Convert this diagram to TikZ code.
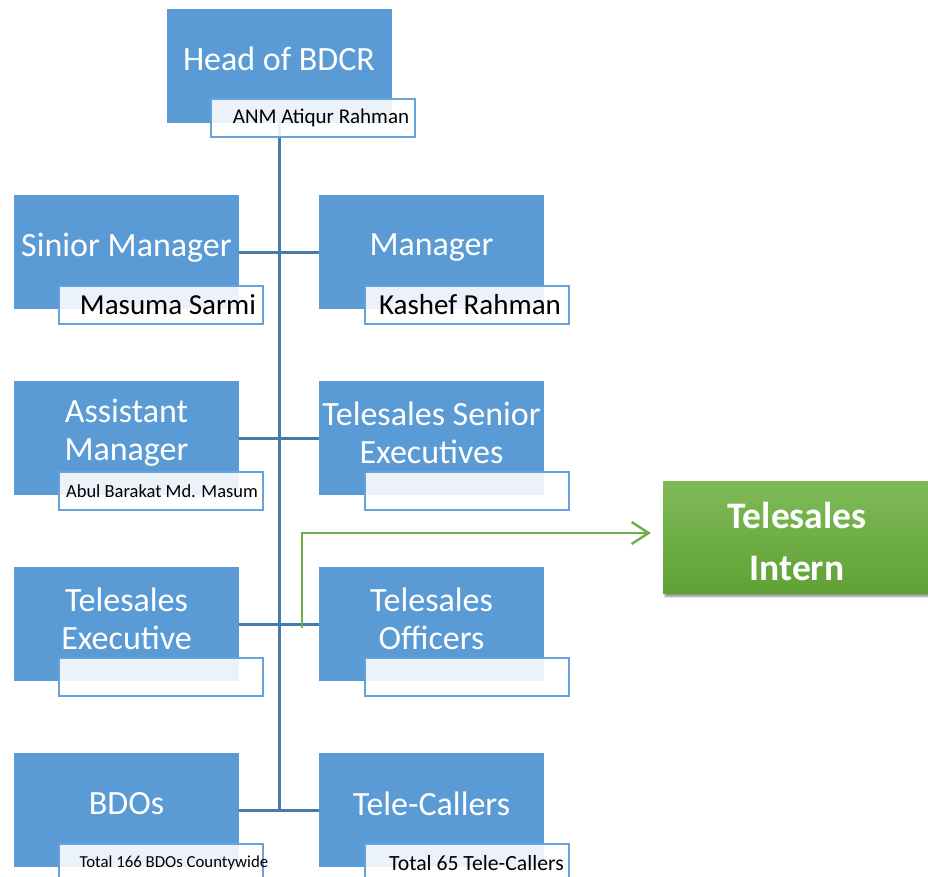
\documentclass[tikz,border=0pt]{standalone}
\usepackage{fontspec}
\setmainfont{Carlito}
\usetikzlibrary{shadows.blur,arrows.meta}
\definecolor{boxblue}{RGB}{91,155,213}
\definecolor{subline}{RGB}{104,162,218}
\definecolor{lineblue}{RGB}{71,123,172}
\definecolor{arrowgreen}{RGB}{112,173,71}
\definecolor{gtop}{RGB}{127,186,88}
\definecolor{gbot}{RGB}{96,161,52}
\tikzset{
  mainbox/.style={rectangle, fill=boxblue, draw=none, minimum width=225pt, minimum height=114pt, inner sep=0pt, outer sep=0pt},
  subbox/.style={rectangle, fill=white, fill opacity=0.88, draw=subline, line width=2pt, minimum width=204pt, minimum height=38pt, inner sep=0pt},
  maintxt/.style={text=white, font=\fontsize{34}{38}\selectfont, align=center, inner sep=0pt},
  subtxt/.style={text=black, inner sep=0pt},
  conn/.style={draw=lineblue, line width=3pt},
  greenbox/.style={rectangle, top color=gtop, bottom color=gbot, draw=none, minimum width=268pt, minimum height=112pt, inner sep=0pt,
     blur shadow={shadow xshift=2pt, shadow yshift=-3pt, shadow blur steps=6, shadow opacity=45}},
  greentxt/.style={text=white, font=\fontsize{37.5}{52}\selectfont\bfseries, align=center, inner sep=0pt},
  greenarrow/.style={draw=arrowgreen, line width=2.4pt, -{Straight Barb[length=17pt, width=22pt, line width=2.4pt]}}
}
\begin{document}
\begin{tikzpicture}[x=1pt, y=-1pt]
\useasboundingbox (0,0) rectangle (928,877);
% main boxes
\node[mainbox] (head) at (279,66.5) {};
\node[mainbox] (sm) at (126.5,252) {};
\node[mainbox] (mg) at (431.5,252) {};
\node[mainbox] (am) at (126.5,438) {};
\node[mainbox] (tse) at (431.5,438) {};
\node[mainbox] (te) at (126.5,624) {};
\node[mainbox] (to) at (431.5,624) {};
\node[mainbox] (bdo) at (126.5,810) {};
\node[mainbox] (tc) at (431.5,810) {};
% green box
\node[greenbox] (intern) at (797,537.5) {};
% connectors
\draw[conn] (head.south) -- (head.south |- bdo.east);
\draw[conn] (sm.east) -- (mg.west);
\draw[conn] (am.east) -- (tse.west);
\draw[conn] (te.east) -- (to.west);
\draw[conn] (bdo.east) -- (tc.west);
\coordinate (g1) at (302,628);
\draw[greenarrow, shorten >=12pt] (g1) |- ([yshift=4.5pt]intern.west);
% sub boxes
\node[subbox] (headsub) at (313,118) {};
\node[subbox] (smsub) at (161,305) {};
\node[subbox] (mgsub) at (466.5,305) {};
\node[subbox] (amsub) at (161,491) {};
\node[subbox] (tsesub) at (466.5,491) {};
\node[subbox] (tesub) at (161,677) {};
\node[subbox] (tosub) at (466.5,677) {};
\node[subbox] (bdosub) at (161,863) {};
\node[subbox] (tcsub) at (466.5,863) {};
% main texts
\node[maintxt] (headt) at ([yshift=8pt]head.center) {Head of BDCR};
\node[maintxt] (smt) at ([yshift=4.5pt]sm.center) {Sinior Manager};
\node[maintxt] (mgt) at ([yshift=4.5pt]mg.center) {Manager};
\node[maintxt] (amt) at ([yshift=5pt]am.center) {Assistant\\Manager};
\node[maintxt] (tset) at ([yshift=5pt]tse.center) {Telesales Senior\\Executives};
\node[maintxt] (tet) at ([yshift=5pt]te.center) {Telesales\\Executive};
\node[maintxt] (tot) at ([yshift=5pt]to.center) {Telesales\\Officers};
\node[maintxt] (bdot) at ([yshift=6pt]bdo.center) {BDOs};
\node[maintxt] (tct) at ([yshift=6pt]tc.center) {Tele-Callers};
% sub texts
\node[subtxt, font=\fontsize{21}{24}\selectfont] (headst) at ([xshift=8pt]headsub.center) {ANM Atiqur Rahman};
\node[subtxt, font=\fontsize{29}{32}\selectfont] (smst) at ([xshift=7pt]smsub.center) {Masuma Sarmi};
\node[subtxt, font=\fontsize{29}{32}\selectfont] (mgst) at ([xshift=3.5pt]mgsub.center) {Kashef Rahman};
\node[subtxt, font=\fontsize{18.5}{21}\selectfont] (amst) at ([xshift=1pt]amsub.center) {Abul Barakat Md. Masum};
\node[subtxt, font=\fontsize{16.8}{19}\selectfont] (bdost) at ([xshift=13pt]bdosub.center) {Total 166 BDOs Countywide};
\node[subtxt, font=\fontsize{21.7}{24}\selectfont] (tcst) at ([xshift=10pt]tcsub.center) {Total 65 Tele-Callers};
% green text
\node[greentxt] (internt) at ([yshift=-4pt]intern.center) {Telesales\\Intern};
\end{tikzpicture}
\end{document}
